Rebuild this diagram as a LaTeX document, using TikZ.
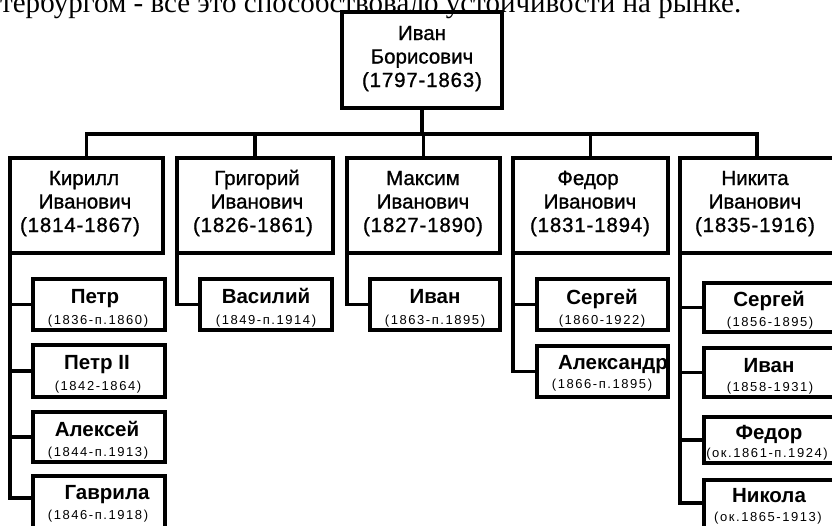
\documentclass[tikz,border=0pt]{standalone}
\usepackage{fontspec}
\setmainfont{Liberation Sans}
\newfontfamily\serifpart{Liberation Serif}
\newfontfamily\medfont[FakeBold=1]{Liberation Sans}
\newfontfamily\meddate[FakeBold=1,LetterSpace=4]{Liberation Sans}
\newfontfamily\datefam[LetterSpace=12]{Liberation Sans}
\usetikzlibrary{fit}
\tikzset{
  box/.style={draw, line width=3.6pt, rectangle, inner sep=0pt, outer sep=0pt},
  conn/.style={line width=3.6pt, line join=miter},
  lvl/.style={font=\medfont\fontsize{20.5}{23.5}\selectfont, anchor=base, inner sep=0pt},
  lvldate/.style={font=\meddate\fontsize{20.5}{23.5}\selectfont, anchor=base, inner sep=0pt},
  kname/.style={font=\bfseries\fontsize{20.5}{23}\selectfont, anchor=base, inner sep=0pt},
  kdate/.style={font=\datefam\fontsize{13}{15}\selectfont, anchor=base, inner sep=0pt},
}
\begin{document}
\begin{tikzpicture}[x=1pt,y=-1pt]
\clip (0,0) rectangle (832,525);
\fill[white] (0,0) rectangle (832,525);

% cut-off line of text at the top
\node[anchor=base west, inner sep=0pt, font=\serifpart\fontsize{29}{30}\selectfont] (topline) at (0,12) {тербургом - все это способствовало устойчивости на рынке.};

% root
\node[box, fit={(342,12) (502,108)}] (root) {};
\node[lvl] (rootA) at (422,40) {Иван};
\node[lvl] (rootB) at (422,63.5) {Борисович};
\node[lvldate] (rootC) at (422,87) {(1797-1863)};

% sons
\node[box, fit={(10,158) (163,253)}] (kir) {};
\node[box, fit={(177,158) (333,253)}] (gri) {};
\node[box, fit={(347,158) (500,253)}] (max) {};
\node[box, fit={(513,158) (668,253)}] (fed) {};
\node[box, fit={(680,158) (834,253)}] (nik) {};

\node[lvl] (kirA) at (84,185) {Кирилл};
\node[lvl] (kirB) at (85,208.5) {Иванович};
\node[lvldate] (kirC) at (80,232) {(1814-1867)};
\node[lvl] (griA) at (257,185) {Григорий};
\node[lvl] (griB) at (257,208.5) {Иванович};
\node[lvldate] (griC) at (253,232) {(1826-1861)};
\node[lvl] (maxA) at (423,185) {Максим};
\node[lvl] (maxB) at (423,208.5) {Иванович};
\node[lvldate] (maxC) at (423,232) {(1827-1890)};
\node[lvl] (fedA) at (588,185) {Федор};
\node[lvl] (fedB) at (590,208.5) {Иванович};
\node[lvldate] (fedC) at (590,232) {(1831-1894)};
\node[lvl] (nikA) at (755,185) {Никита};
\node[lvl] (nikB) at (755,208.5) {Иванович};
\node[lvldate] (nikC) at (755,232) {(1835-1916)};

% grandsons
\node[box, fit={(33,279) (165,330)}] (petr) {};
\node[box, fit={(33,345) (165,397)}] (petrb) {};
\node[box, fit={(33,412) (165,462)}] (alek) {};
\node[box, fit={(33,476) (165,530)}] (gav) {};
\node[box, fit={(200,279) (332,330)}] (vas) {};
\node[box, fit={(370,279) (500,330)}] (ivm) {};
\node[box, fit={(537,279) (668,330)}] (serf) {};
\node[box, fit={(537,346) (668,397)}] (alex) {};
\node[box, fit={(704,283) (836,332)}] (sern) {};
\node[box, fit={(704,348) (836,397)}] (ivn) {};
\node[box, fit={(704,417) (836,463)}] (fedn) {};
\node[box, fit={(704,480) (836,532)}] (nikn) {};

\node[kname] (petrA) at (95,303) {Петр};
\node[kdate] (petrB) at (98,324) {(1836-п.1860)};
\node[kname] (petrbA) at (97,369) {Петр II};
\node[kdate] (petrbB) at (98,390) {(1842-1864)};
\node[kname] (alekA) at (97,436) {Алексей};
\node[kdate] (alekB) at (98,456) {(1844-п.1913)};
\node[kname] (gavA) at (107,499) {Гаврила};
\node[kdate] (gavB) at (98,519) {(1846-п.1918)};
\node[kname] (vasA) at (266,303) {Василий};
\node[kdate] (vasB) at (266,324) {(1849-п.1914)};
\node[kname] (ivmA) at (435,303) {Иван};
\node[kdate] (ivmB) at (435,324) {(1863-п.1895)};
\node[kname] (serfA) at (602,304) {Сергей};
\node[kdate] (serfB) at (602,324) {(1860-1922)};
\node[kname] (alexA) at (613,369) {Александр};
\node[kdate] (alexB) at (602,388) {(1866-п.1895)};
\node[kname] (sernA) at (769,306) {Сергей};
\node[kdate] (sernB) at (770,326) {(1856-1895)};
\node[kname] (ivnA) at (769,372) {Иван};
\node[kdate] (ivnB) at (770,391) {(1858-1931)};
\node[kname] (fednA) at (769,439) {Федор};
\node[kdate] (fednB) at (767,457) {(ок.1861-п.1924)};
\node[kname] (niknA) at (769,502) {Никола};
\node[kdate] (niknB) at (768,521.5) {(ок.1865-1913)};

% connectors: root to sons
\coordinate (barY) at (0,134);
\draw[conn] (kir.north) |- (nik.north |- barY) -- (nik.north);
\draw[conn] (root.south) -- (root.south |- barY);
\draw[conn] (gri.north) -- (gri.north |- barY);
\draw[conn] (max.north) -- (max.north |- barY);
\draw[conn] (fed.north) -- (fed.north |- barY);

% connectors: sons to grandsons
\coordinate (gavc) at ([yshift=5pt]gav.west);
\draw[conn] (kir.south west) -- (kir.south west |- gavc) -- (gavc);
\draw[conn] (kir.south west |- petr.west) -- (petr.west);
\draw[conn] (kir.south west |- petrb.west) -- (petrb.west);
\draw[conn] (kir.south west |- alek.west) -- (alek.west);

\draw[conn] (gri.south west) |- (vas.west);
\draw[conn] (max.south west) |- (ivm.west);

\draw[conn] (fed.south west) |- (alex.west);
\draw[conn] (fed.south west |- serf.west) -- (serf.west);

\coordinate (niknc) at ([yshift=3pt]nikn.west);
\draw[conn] (nik.south west) -- (nik.south west |- niknc) -- (niknc);
\draw[conn] (nik.south west |- sern.west) -- (sern.west);
\draw[conn] (nik.south west |- ivn.west) -- (ivn.west);
\draw[conn] (nik.south west |- fedn.west) -- (fedn.west);
\end{tikzpicture}
\end{document}
